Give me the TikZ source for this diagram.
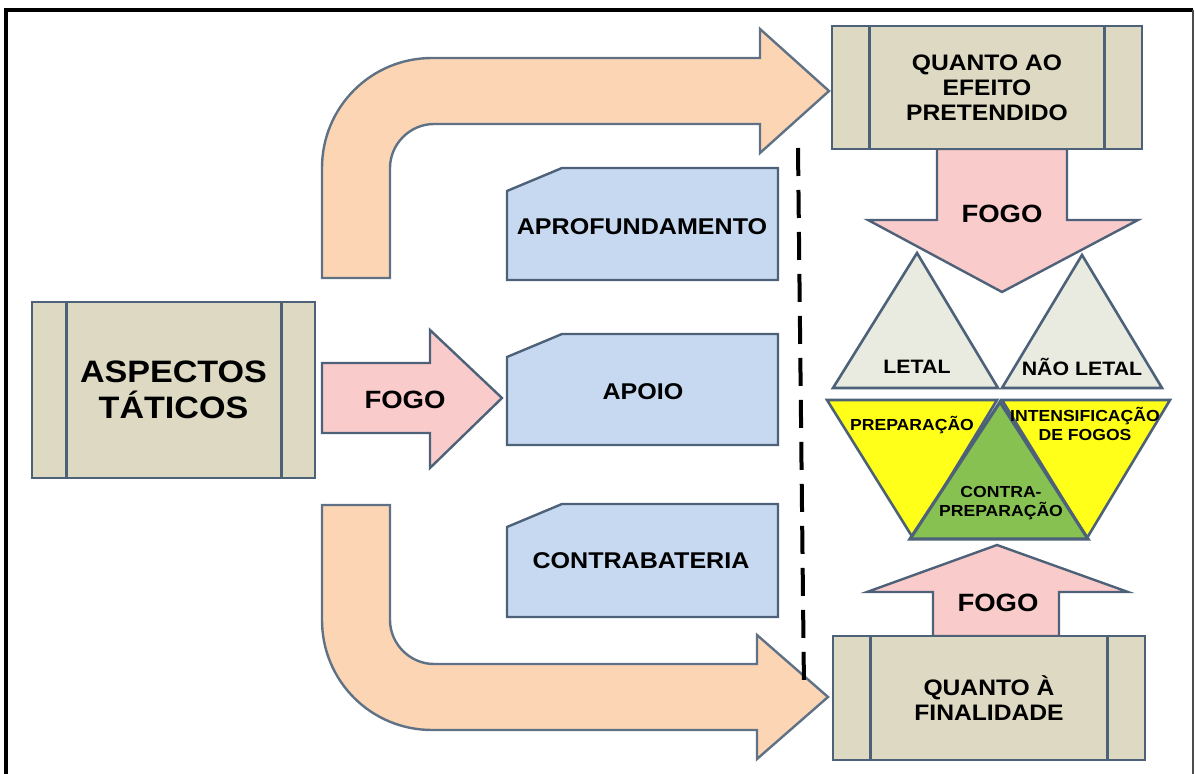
\documentclass[tikz,border=0pt]{standalone}
\usepackage{fontspec}
\newfontfamily\diagfont{Liberation Sans}[FakeStretch=1.1]

\definecolor{edgeblue}{HTML}{4D6178}
\definecolor{tanfill}{HTML}{DDD9C3}
\definecolor{bluefill}{HTML}{C6D9F1}
\definecolor{orangefill}{HTML}{FCD5B5}
\definecolor{pinkfill}{HTML}{F9CBCB}
\definecolor{grayfill}{HTML}{E9EBE0}
\definecolor{yellowfill}{HTML}{FFFF1A}
\definecolor{greenfill}{HTML}{86C152}

\begin{document}
\begin{tikzpicture}[x=0.5pt,y=-0.5pt]
  \tikzstyle{tanbox}=[draw=edgeblue,fill=tanfill,line width=1.3pt,rectangle,align=center,
    font=\diagfont\bfseries\fontsize{11.2}{12.5}\selectfont];
  \tikzstyle{tanedge}=[draw=edgeblue,line width=1.3pt];
  \tikzstyle{bluebox}=[draw=edgeblue,fill=bluefill,line width=1.2pt];
  \tikzstyle{bendarrow}=[draw=edgeblue!90,fill=orangefill,line width=1.2pt];
  \tikzstyle{fogoarrow}=[draw=edgeblue,fill=pinkfill,line width=1.2pt];
  \tikzstyle{graytri}=[draw=edgeblue,fill=grayfill,line width=1.3pt];
  \tikzstyle{yellowtri}=[draw=edgeblue,fill=yellowfill,line width=1.3pt];
  \tikzstyle{greentri}=[draw=edgeblue,fill=greenfill,line width=1.6pt];
  \tikzstyle{divider}=[line width=2pt,dash pattern=on 14pt off 7pt];
  \tikzstyle{fogotext}=[font=\diagfont\bfseries\fontsize{12.5}{14}\selectfont];
  \tikzstyle{boxtext}=[font=\diagfont\bfseries\fontsize{11.4}{13}\selectfont];
  \tikzstyle{tritext}=[font=\diagfont\bfseries\fontsize{9.7}{11}\selectfont];
  \tikzstyle{smalltext}=[font=\diagfont\bfseries\fontsize{8}{9.5}\selectfont,align=center];

  \useasboundingbox (0,0) rectangle (1195,774);

  % frame
  \draw[line width=1.6pt] (6,774) -- (6,10) -- (1193,10);
  \draw[line width=0.6pt,black!70] (1193,10) -- (1193,774);

  % bent arrows
  \draw[bendarrow] (322,278) -- (322,168) .. controls (322,107) and (371,58) .. (432,58)
    -- (760,58) -- (760,29) -- (829,91) -- (760,153) -- (760,124) -- (434,124)
    .. controls (410,124) and (390,144) .. (390,168) -- (390,278) -- cycle;
  \draw[bendarrow] (322,505) -- (322,620) .. controls (322,681) and (371,730) .. (432,730)
    -- (757,730) -- (757,759) -- (828,697) -- (757,635) -- (757,664) -- (434,664)
    .. controls (410,664) and (390,644) .. (390,620) -- (390,505) -- cycle;

  % FOGO arrows
  \draw[fogoarrow] (322,363) -- (430,363) -- (430,330) -- (502,398) -- (430,468) -- (430,433) -- (322,433) -- cycle;
  \draw[fogoarrow] (937,149) -- (937,220) -- (868,220) -- (1002,292) -- (1138,220) -- (1067,220) -- (1067,149) -- cycle;
  \draw[fogoarrow] (933,636) -- (933,592) -- (867,592) -- (997,545) -- (1128,592) -- (1059,592) -- (1059,636) -- cycle;

  % tan boxes
  \node[tanbox,minimum width=141.5pt,minimum height=88pt,
    font=\diagfont\bfseries\fontsize{15.5}{18}\selectfont] (aspectos) at (173.5,390) {ASPECTOS\\TÁTICOS};
  \node[tanbox,minimum width=155pt,minimum height=61.5pt] (efeito) at (987,87.5) {QUANTO AO\\EFEITO\\PRETENDIDO};
  \node[tanbox,minimum width=156pt,minimum height=62pt] (finalidade) at (989,698) {QUANTO À\\FINALIDADE};
  \draw[tanedge] ([xshift=18pt]aspectos.north west) -- ([xshift=18pt]aspectos.south west);
  \draw[tanedge] ([xshift=-17.5pt]aspectos.north east) -- ([xshift=-17.5pt]aspectos.south east);
  \foreach \n in {efeito,finalidade}{
    \draw[tanedge] ([xshift=19.5pt]\n.north west) -- ([xshift=19.5pt]\n.south west);
    \draw[tanedge] ([xshift=-19.5pt]\n.north east) -- ([xshift=-19.5pt]\n.south east);
  }

  % blue boxes
  \foreach \t/\b in {168/280,334/445,504/617}
    \draw[bluebox] (507,\b) -- (507,\t+23) -- (562,\t) -- (778,\t) -- (778,\b) -- cycle;
  \node[boxtext] (aprof) at (642,227) {APROFUNDAMENTO};
  \node[boxtext] (apoio) at (643,392) {APOIO};
  \node[boxtext] (contrabat) at (641,561) {CONTRABATERIA};

  % divider
  \draw[divider] (798,148) -- (804,688);

  % triangles
  \draw[graytri] (833,388) -- (917,253) -- (998,388) -- cycle;
  \draw[graytri] (1002,388) -- (1082,255) -- (1162,388) -- cycle;
  \draw[yellowtri] (827,400) -- (997,400) -- (913,538) -- cycle;
  \draw[yellowtri] (1002,400) -- (1170,400) -- (1087,538) -- cycle;
  \draw[greentri] (910,539) -- (1000,402) -- (1088,539) -- cycle;

  \node[fogotext] (fogoleft) at (405,400) {FOGO};
  \node[fogotext] (fogotop) at (1002,214) {FOGO};
  \node[fogotext] (fogobottom) at (998,603) {FOGO};
  \node[tritext] (letal) at (917,367) {LETAL};
  \node[tritext] (naoletal) at (1082,367) {NÃO LETAL};
  \node[smalltext] (prep) at (912,425) {PREPARAÇÃO};
  \node[smalltext] (intens) at (1085,424) {INTENSIFICAÇÃO\\DE FOGOS};
  \node[smalltext] (contraprep) at (1001,503) {CONTRA-\\PREPARAÇÃO};
\end{tikzpicture}
\end{document}
